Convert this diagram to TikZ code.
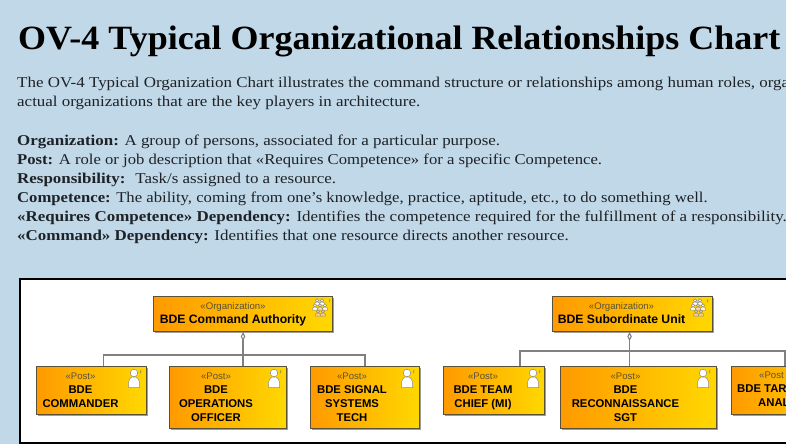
\documentclass[tikz,border=0pt]{standalone}
\usepackage{fontspec}
\setmainfont{Liberation Serif}
\newfontfamily\boxfont{Liberation Sans}
\newfontfamily\titlefont[FakeStretch=1.058]{Liberation Serif}
\newfontfamily\bodyfont[FakeStretch=1.13]{Liberation Serif}
\usetikzlibrary{calc,shadows,arrows.meta}
\definecolor{pagebg}{HTML}{C1D8E8}
\definecolor{boxa}{HTML}{FF9A00}
\definecolor{boxb}{HTML}{FFD800}
\definecolor{boxline}{HTML}{5A5238}
\definecolor{connline}{HTML}{808080}
\definecolor{bodyink}{HTML}{1E2226}
\newcommand{\boxlabel}[3]{\begin{tabular}{@{}c@{}}\fontsize{9.6}{14}\selectfont\mdseries\color{boxline}#2\\#3\end{tabular}\kern#1pt}
\tikzset{
  x=1pt,y=-1pt,
  uml/.style={draw=boxline,line width=1pt,left color=boxa,right color=boxb,anchor=north west,inner sep=0pt,
    font=\boxfont\bfseries\fontsize{11.3}{14}\selectfont,
    drop shadow={shadow xshift=1.6pt,shadow yshift=-1.6pt,fill=black!55,opacity=.7}},
  body/.style={anchor=base west,inner sep=0pt,text=bodyink,font=\bodyfont\fontsize{15}{18}\selectfont},
  narrowed/.style={transform shape,xscale=#1},
  conn/.style={draw=connline,line width=1.1pt},
  iconline/.style={draw=black!45,line width=.5pt},
  person/.pic={
    \draw[iconline,fill=white] (-5.5,9.5) -- (-5.5,4) .. controls (-5.5,1) and (-3,0) .. (-2,-1) -- (2,-1) .. controls (3,0) and (5.5,1) .. (5.5,4) -- (5.5,9.5) -- cycle;
    \draw[iconline,fill=white] (0,-5) circle (3.8);
    \draw[black!60,line width=.5pt] (7,-8) -- (6.5,-5);
  },
  tiny/.pic={
    \draw[iconline,fill=#1] (-2.4,3) -- (-2.4,1) -- (-1,0) -- (1,0) -- (2.4,1) -- (2.4,3) -- cycle;
    \draw[iconline,fill=#1] (0,-1.6) circle (1.6);
  },
  group/.pic={
    \pic at (-4,-6) {tiny=white};
    \pic at (1,-6) {tiny=white};
    \pic at (-6,-1) {tiny=white};
    \pic at (-1,-1) {tiny=orange!30};
    \pic at (4,-1) {tiny=white};
    \pic at (-3,5) {tiny=orange!45};
    \pic at (2,5) {tiny=orange!45};
    \draw[black!60,line width=.5pt] (9,-9) -- (8.5,-6);
  },
}
\begin{document}
\begin{tikzpicture}
\useasboundingbox (0,0) rectangle (786,444);
\clip (0,0) rectangle (786,444);
\fill[pagebg] (0,0) rectangle (786,444);

\node[anchor=base west,inner sep=0pt,text=black,font=\titlefont\bfseries\fontsize{34}{40}\selectfont] (title) at (18,49) {OV-4 Typical Organizational Relationships Chart};
\node[body] (l1) at (17,87) {The OV-4 Typical Organization Chart illustrates the command structure or relationships among human roles, orga};
\node[body] (l2) at (17,106) {actual organizations that are the key players in architecture.};
\node[body] (l3) at (17,145) {\bfseries Organization: \mdseries A group of persons, associated for a particular purpose.};
\node[body,narrowed=.983] (l4) at (17,164) {\bfseries Post: \mdseries A role or job description that «Requires Competence» for a specific Competence.};
\node[body] (l5) at (17,183) {\bfseries Responsibility: \mdseries\ Task/s assigned to a resource.};
\node[body,narrowed=.984] (l6) at (17,202) {\bfseries Competence: \mdseries The ability, coming from one’s knowledge, practice, aptitude, etc., to do something well.};
\node[body] (l7) at (17,221) {\bfseries «Requires Competence» Dependency: \mdseries Identifies the competence required for the fulfillment of a responsibility.};
\node[body] (l8) at (17,240) {\bfseries «Command» Dependency: \mdseries Identifies that one resource directs another resource.};

\fill[white] (20,279) rectangle (800,443);
\draw[black,line width=2pt] (20,279) rectangle (800,443);

\node[uml,minimum width=179,minimum height=35] (org1) at (153,296) {\boxlabel{20}{«Organization»}{\fontsize{12.2}{14}\selectfont BDE Command Authority}};
\node[uml,minimum width=160,minimum height=35] (org2) at (552,296) {\boxlabel{22}{«Organization»}{\fontsize{12.2}{14}\selectfont BDE Subordinate Unit}};
\node[uml,minimum width=110,minimum height=48] (p1) at (36,366) {\boxlabel{22}{«Post»}{BDE\\COMMANDER}};
\node[uml,minimum width=117,minimum height=62] (p2) at (169,366) {\boxlabel{24}{«Post»}{BDE\\OPERATIONS\\OFFICER}};
\node[uml,minimum width=109,minimum height=62] (p3) at (310,366) {\boxlabel{26}{«Post»}{BDE SIGNAL\\SYSTEMS\\TECH}};
\node[uml,minimum width=101,minimum height=48] (p4) at (443,366) {\boxlabel{22}{«Post»}{BDE TEAM\\CHIEF (MI)}};
\node[uml,minimum width=156,minimum height=62] (p5) at (560,366) {\boxlabel{26}{«Post»}{BDE\\RECONNAISSANCE\\SGT}};
\node[uml,minimum width=110,minimum height=48] (p6) at (731,366) {};
\node[anchor=west,inner sep=0pt,font=\boxfont\bfseries\fontsize{11.3}{14}\selectfont] (p6text) at (737,390) {\begin{tabular}{@{}l@{}}\hspace*{22pt}\fontsize{9.6}{14}\selectfont\mdseries\color{boxline}«Post\\BDE TAR\\\hspace*{21pt}ANAL\end{tabular}};

\pic at ($(org1.north east)+(-12,12)$) {group};
\pic at ($(org2.north east)+(-14,12)$) {group};
\pic at ($(p1.north east)+(-13,12)$) {person};
\pic at ($(p2.north east)+(-13,12)$) {person};
\pic at ($(p3.north east)+(-13,12)$) {person};
\pic at ($(p4.north east)+(-12,12)$) {person};
\pic at ($(p5.north east)+(-14,12)$) {person};

\coordinate (a1) at ($(p1.north)+(12,0)$);
\coordinate (a2) at (org1.south |- p2.north);
\draw[conn] (a1) -- ++(0,-11) -| (p3.north);
\draw[conn,{Diamond[open,fill=white,length=9pt,width=4.5pt]}-] (org1.south) -- (a2);
\coordinate (b0) at ($(org2.south)+(-3,0)$);
\coordinate (b1) at ($(p4.north)+(26,0)$);
\coordinate (b2) at (b0 |- p5.north);
\coordinate (b3) at ($(p6.north west)+(54,0)$);
\draw[conn] (b1) -- ++(0,-15) -| (b3);
\draw[conn,{Diamond[open,fill=white,length=9pt,width=4.5pt]}-] (b0) -- (b2);
\end{tikzpicture}
\end{document}
